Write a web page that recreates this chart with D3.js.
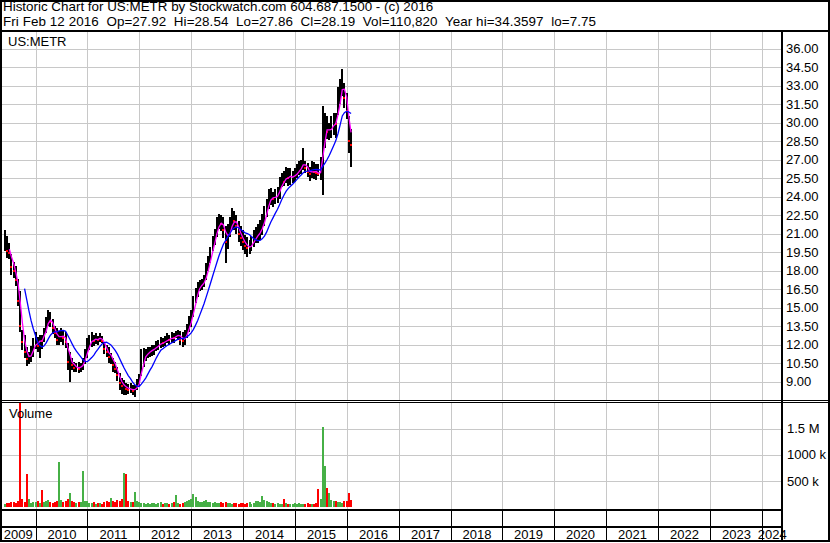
<!DOCTYPE html>
<html>
<head>
<meta charset="utf-8">
<script src="https://cdn.jsdelivr.net/npm/d3@7"></script>
<style>
  body { margin: 0; background: #fff; }
  svg { display: block; }
  svg text { font-family: "Liberation Sans", Arial, sans-serif; fill: #000; }
</style>
</head>
<body>
<div id="chart"></div>
<script>
var svgWidth = 830;
var svgHeight = 543;

// Header text
var titleLine = "Historic Chart for US:METR by Stockwatch.com 604.687.1500 - (c) 2016";
var quoteLine = "Fri Feb 12 2016  Op=27.92  Hi=28.54  Lo=27.86  Cl=28.19  Vol=110,820  Year hi=34.3597  lo=7.75";
var symbol = "US:METR";

// Axis ticks
var years = [2009, 2010, 2011, 2012, 2013, 2014, 2015, 2016, 2017, 2018, 2019, 2020, 2021, 2022, 2023, 2024];
var priceTicks = [9, 10.5, 12, 13.5, 15, 16.5, 18, 19.5, 21, 22.5, 24, 25.5, 27, 28.5, 30, 31.5, 33, 34.5, 36];
var volumeTicks = [500, 1000, 1500];
var volumeTickLabels = ["500 k", "1000 k", "1.5 M"];

// Half-monthly bars (1st and 16th of each month) starting June 1 2009
var firstBarYear = 2009, firstBarMonth = 5;

var highs = [
  21.3, 20.8, 20.2, 19.3, 18.7, 18.4, 17.3, 16.3, 13.2, 12.8,
  11.8, 11.4, 11.9, 12.5, 13.0, 12.6, 12.8, 12.8, 13.3, 14.2,
  14.8, 14.6, 14.1, 13.5, 13.3, 13.1, 13.3, 13.2, 13.0, 12.1,
  11.4, 10.9, 10.6, 10.5, 10.6, 10.5, 10.9, 11.6, 12.5, 12.8,
  13.0, 12.8, 12.9, 12.7, 12.9, 12.7, 12.2, 12.0, 11.8, 11.3,
  10.9, 10.6, 10.2, 9.7, 9.3, 9.1, 8.9, 8.8, 8.9, 8.7,
  8.7, 9.2, 9.6, 11.6, 11.7, 11.6, 11.8, 11.8, 12.0, 12.0,
  12.3, 12.4, 12.6, 12.5, 12.7, 12.9, 12.8, 13.0, 12.9, 13.1,
  13.2, 13.1, 13.0, 13.2, 13.7, 14.3, 14.8, 15.9, 16.6, 17.1,
  17.2, 17.3, 17.6, 18.6, 19.2, 19.9, 20.8, 21.4, 22.3, 22.6,
  22.5, 22.3, 21.6, 21.8, 22.3, 23.1, 22.8, 22.5, 22.0, 21.6,
  21.3, 20.9, 20.7, 20.5, 20.8, 21.3, 21.5, 21.8, 22.1, 22.6,
  23.2, 23.8, 24.6, 24.7, 24.4, 24.6, 24.8, 25.6, 25.9, 26.1,
  26.4, 26.3, 26.3, 26.1, 26.3, 26.6, 26.9, 27.0, 27.9, 26.9,
  26.7, 26.4, 26.9, 26.8, 26.6, 26.6, 27.2, 31.3, 30.8, 30.5,
  30.0, 30.5, 30.8, 30.8, 32.9, 33.5, 34.36, 33.2, 32.4, 30.5,
  29.5
];
var lows = [
  19.6, 19.0, 18.9, 17.6, 17.4, 16.8, 15.1, 13.0, 11.6, 10.9,
  10.3, 10.4, 10.6, 11.0, 11.6, 11.4, 10.9, 11.7, 12.2, 12.9,
  13.5, 13.4, 12.9, 12.5, 11.9, 12.0, 12.2, 12.0, 11.7, 9.9,
  9.0, 9.9, 9.8, 9.8, 9.7, 9.8, 9.9, 10.4, 10.9, 11.6,
  11.8, 11.9, 12.0, 12.0, 12.2, 12.1, 11.2, 11.0, 10.5, 10.4,
  9.8, 9.7, 9.1, 8.3, 8.0, 7.9, 7.9, 8.0, 8.1, 7.9,
  7.75, 8.3, 8.6, 9.4, 10.2, 10.6, 10.9, 11.0, 11.1, 11.2,
  11.5, 11.6, 11.7, 11.8, 11.9, 12.1, 12.0, 12.1, 12.1, 12.5,
  12.4, 12.0, 11.8, 12.0, 12.6, 13.0, 13.4, 14.2, 15.4, 15.9,
  16.3, 16.4, 16.6, 17.2, 18.0, 18.6, 19.6, 20.1, 20.7, 21.4,
  21.2, 20.6, 18.6, 19.8, 20.7, 21.4, 21.3, 21.0, 20.3, 20.0,
  19.7, 19.4, 19.1, 19.4, 19.6, 19.9, 20.2, 20.3, 20.5, 20.9,
  21.6, 22.3, 23.0, 23.3, 23.2, 23.4, 23.5, 23.8, 24.8, 24.9,
  25.1, 24.8, 24.9, 25.1, 25.2, 25.5, 25.8, 25.9, 26.1, 25.9,
  25.6, 25.3, 25.5, 25.4, 25.3, 25.6, 25.3, 24.1, 28.0, 28.6,
  28.6, 28.7, 29.0, 28.8, 30.6, 31.5, 32.2, 31.2, 30.3, 27.5,
  26.4
];
var closes = [
  20.2, 19.6, 19.4, 18.3, 18.0, 17.2, 15.5, 13.5, 12.2, 11.4,
  10.8, 10.9, 11.5, 12.0, 12.3, 11.9, 12.6, 12.3, 13.0, 13.8,
  14.3, 13.8, 13.3, 12.9, 12.4, 12.6, 12.9, 12.5, 12.2, 10.6,
  10.8, 10.3, 10.1, 10.2, 10.0, 10.3, 10.6, 11.2, 12.0, 12.2,
  12.5, 12.3, 12.5, 12.4, 12.6, 12.3, 11.6, 11.4, 11.0, 11.1,
  10.3, 10.0, 9.5, 8.9, 8.6, 8.7, 8.4, 8.3, 8.5, 8.2,
  8.3, 8.9, 9.2, 10.8, 11.0, 11.2, 11.4, 11.5, 11.6, 11.7,
  11.9, 12.0, 12.2, 12.1, 12.3, 12.5, 12.4, 12.6, 12.5, 12.8,
  12.9, 12.4, 12.3, 12.6, 13.2, 13.8, 14.3, 15.3, 16.1, 16.6,
  16.8, 16.9, 17.2, 18.0, 18.7, 19.4, 20.3, 20.9, 21.7, 22.0,
  21.8, 21.3, 20.3, 20.9, 21.6, 22.2, 22.0, 21.6, 21.0, 20.6,
  20.3, 20.0, 19.8, 19.9, 20.2, 20.6, 20.8, 21.0, 21.3, 21.8,
  22.5, 23.2, 23.9, 24.0, 23.8, 24.0, 24.2, 24.9, 25.3, 25.2,
  25.8, 25.5, 25.6, 25.6, 25.8, 26.0, 26.3, 26.5, 26.9, 26.3,
  26.0, 25.8, 26.2, 26.0, 25.9, 25.8, 26.1, 29.4, 29.6, 29.2,
  29.4, 29.7, 30.1, 29.9, 31.9, 32.8, 33.3, 32.0, 30.9, 28.5,
  28.19
];
// volume in thousands
var volumes = [
  60, 80, 70, 90, 100, 70, 120, 1990, 150, 90,
  640, 150, 80, 100, 90, 110, 80, 330, 90, 120,
  130, 100, 80, 90, 110, 860, 140, 100, 120, 150,
  270, 110, 90, 80, 100, 90, 680, 120, 110, 80,
  70, 90, 60, 80, 70, 60, 90, 110, 100, 170,
  120, 100, 130, 110, 150, 660, 640, 120, 100, 90,
  290, 110, 90, 80, 70, 60, 70, 60, 80, 70,
  60, 70, 90, 60, 70, 80, 60, 70, 90, 230,
  70, 60, 80, 90, 110, 130, 150, 240, 200, 120,
  100, 90, 110, 130, 90, 100, 80, 90, 70, 80,
  90, 70, 100, 80, 70, 60, 70, 80, 60, 70,
  80, 60, 70, 90, 60, 80, 110, 120, 100, 210,
  130, 110, 90, 70, 80, 60, 70, 50, 60, 160,
  70, 60, 50, 60, 70, 60, 70, 60, 50, 60,
  70, 60, 50, 60, 70, 340, 150, 1530, 785, 370,
  270, 130, 110, 120, 90, 100, 80, 110, 120, 270,
  140
];

// layout
var plotRight = 782;
var priceTop = 32, priceBottom = 400;
var volTop = 403, volBottom = 509;
var gridColor = "#c8c8c8";

var bars = highs.map(function(h, i) {
  return {
    date: new Date(Date.UTC(firstBarYear, firstBarMonth + Math.floor(i / 2), i % 2 ? 16 : 1)),
    high: h,
    low: lows[i],
    close: closes[i],
    volume: volumes[i],
    up: i === 0 || closes[i] >= closes[i - 1]
  };
});

function movingAverage(values, n) {
  return values.map(function(v, i) {
    return i < n - 1 ? null : d3.mean(values.slice(i - n + 1, i + 1));
  });
}
var maFast = movingAverage(closes, 3);
var maSlow = movingAverage(closes, 10);

var svg = d3.select("#chart")
  .append("svg")
  .attr("width", svgWidth)
  .attr("height", svgHeight);

// Scales
var xScale = d3.scaleUtc()
  .domain([new Date(Date.UTC(2010, 0, 1)), new Date(Date.UTC(2024, 0, 1))])
  .range([35.5, 761.7]);

var yPrice = d3.scaleLinear()
  .domain([9, 36])
  .range([381.5, 48.5]);

var yVol = d3.scaleLinear()
  .domain([0, 2000])
  .range([507, 402.5]);

function snap(v) { return Math.round(v) + 0.5; }

var yearStarts = years.slice(1).map(function(y) { return snap(xScale(new Date(Date.UTC(y, 0, 1)))); });

// clip paths
var defs = svg.append("defs");
defs.append("clipPath").attr("id", "clipPrice")
  .append("rect").attr("x", 0).attr("y", priceTop).attr("width", plotRight - 1).attr("height", priceBottom - priceTop);
defs.append("clipPath").attr("id", "clipVol")
  .append("rect").attr("x", 0).attr("y", volTop).attr("width", plotRight - 1).attr("height", volBottom - volTop);

// Grid: price pane
var gridGroup = svg.append("g").attr("stroke", gridColor).attr("stroke-width", 1);
gridGroup.selectAll(".hgrid")
  .data(priceTicks)
  .enter()
  .append("line")
  .attr("x1", 0).attr("x2", plotRight)
  .attr("y1", d => snap(yPrice(d))).attr("y2", d => snap(yPrice(d)));

gridGroup.selectAll(".vgridP")
  .data(yearStarts)
  .enter()
  .append("line")
  .attr("x1", d => d).attr("x2", d => d)
  .attr("y1", priceTop).attr("y2", priceBottom);

// Grid: volume pane
gridGroup.selectAll(".vgridV")
  .data(yearStarts)
  .enter()
  .append("line")
  .attr("x1", d => d).attr("x2", d => d)
  .attr("y1", volTop).attr("y2", volBottom);

gridGroup.selectAll(".hgridV")
  .data(volumeTicks)
  .enter()
  .append("line")
  .attr("x1", 0).attr("x2", plotRight)
  .attr("y1", d => snap(yVol(d))).attr("y2", d => snap(yVol(d)));

// Price bars
var priceGroup = svg.append("g").attr("clip-path", "url(#clipPrice)");

priceGroup.selectAll(".bar")
  .data(bars)
  .enter()
  .append("rect")
  .attr("x", d => Math.round(xScale(d.date)) - 1)
  .attr("width", 2)
  .attr("y", d => Math.round(yPrice(d.high)))
  .attr("height", d => Math.max(1, Math.round(yPrice(d.low) - yPrice(d.high))))
  .attr("fill", "#000");

priceGroup.selectAll(".tick-close")
  .data(bars.filter(d => !d.up))
  .enter()
  .append("rect")
  .attr("x", d => Math.round(xScale(d.date)) - 1)
  .attr("width", 2)
  .attr("y", d => Math.round(yPrice(d.close)) - 1)
  .attr("height", 2)
  .attr("fill", "#ff0000");

var maLine = d3.line()
  .defined(d => d.v != null)
  .x(d => xScale(d.date))
  .y(d => yPrice(d.v));

priceGroup.append("path")
  .datum(bars.map((d, i) => ({date: d.date, v: maFast[i]})))
  .attr("d", maLine)
  .attr("fill", "none")
  .attr("stroke", "#ff00ff")
  .attr("stroke-width", 1.3);

priceGroup.append("path")
  .datum(bars.map((d, i) => ({date: d.date, v: maSlow[i]})))
  .attr("d", maLine)
  .attr("fill", "none")
  .attr("stroke", "#0000ff")
  .attr("stroke-width", 1.3);

// Volume bars
svg.append("g").attr("clip-path", "url(#clipVol)")
  .selectAll("rect")
  .data(bars)
  .enter()
  .append("rect")
  .attr("x", d => Math.round(xScale(d.date)) - 1)
  .attr("width", 2)
  .attr("y", d => Math.round(yVol(d.volume)))
  .attr("height", d => Math.round(yVol(0) - yVol(d.volume)))
  .attr("fill", d => d.up ? "#46b046" : "#ff0000");

// Frame lines
var frame = svg.append("g").attr("stroke", "#000").attr("fill", "none");
frame.append("rect").attr("x", 1).attr("y", 1).attr("width", svgWidth - 2).attr("height", 540).attr("stroke-width", 2);
frame.append("line").attr("x1", 0).attr("x2", svgWidth).attr("y1", 31).attr("y2", 31).attr("stroke-width", 2);
frame.append("line").attr("x1", 0).attr("x2", svgWidth).attr("y1", 400.5).attr("y2", 400.5).attr("stroke-width", 1);
frame.append("line").attr("x1", 0).attr("x2", svgWidth).attr("y1", 402.5).attr("y2", 402.5).attr("stroke-width", 1);
frame.append("line").attr("x1", 0).attr("x2", plotRight).attr("y1", 510).attr("y2", 510).attr("stroke-width", 2);
frame.append("line").attr("x1", 0).attr("x2", plotRight).attr("y1", 527).attr("y2", 527).attr("stroke-width", 2);
frame.append("line").attr("x1", plotRight).attr("x2", plotRight).attr("y1", 31).attr("y2", 542).attr("stroke-width", 2);

frame.selectAll(".yearSep")
  .data(yearStarts)
  .enter()
  .append("line")
  .attr("x1", d => d).attr("x2", d => d)
  .attr("y1", 511).attr("y2", 541)
  .attr("stroke-width", 1);

// Header text (keep the double spaces between fields)
svg.append("text").attr("x", 3).attr("y", 11).attr("font-size", 13.4).text(titleLine);
svg.append("text").attr("x", 3).attr("y", 26).attr("font-size", 13.4)
  .attr("textLength", 593).attr("lengthAdjust", "spacing")
  .text(quoteLine.replace(/  /g, "\u00a0 "));
svg.append("text").attr("x", 8).attr("y", 46).attr("font-size", 13).text(symbol);
svg.append("text").attr("x", 9).attr("y", 418).attr("font-size", 13).text("Volume");

// Price axis labels
svg.selectAll(".priceLabel")
  .data(priceTicks)
  .enter()
  .append("text")
  .attr("x", 786)
  .attr("y", d => yPrice(d))
  .attr("dy", "0.36em")
  .attr("font-size", 13)
  .text(d => d3.format(".2f")(d));

// Volume axis labels
svg.selectAll(".volLabel")
  .data(volumeTicks)
  .enter()
  .append("text")
  .attr("x", 787)
  .attr("y", d => yVol(d))
  .attr("dy", "0.36em")
  .attr("font-size", 13)
  .text((d, i) => volumeTickLabels[i]);

// Year labels centred in the visible part of each year band
var bandEdges = [0].concat(yearStarts).concat([plotRight]);
svg.selectAll(".yearLabel")
  .data(years)
  .enter()
  .append("text")
  .attr("x", (d, i) => (bandEdges[i] + bandEdges[i + 1]) / 2)
  .attr("y", 539)
  .attr("text-anchor", "middle")
  .attr("font-size", 13)
  .text(d => d);
</script>
</body>
</html>
